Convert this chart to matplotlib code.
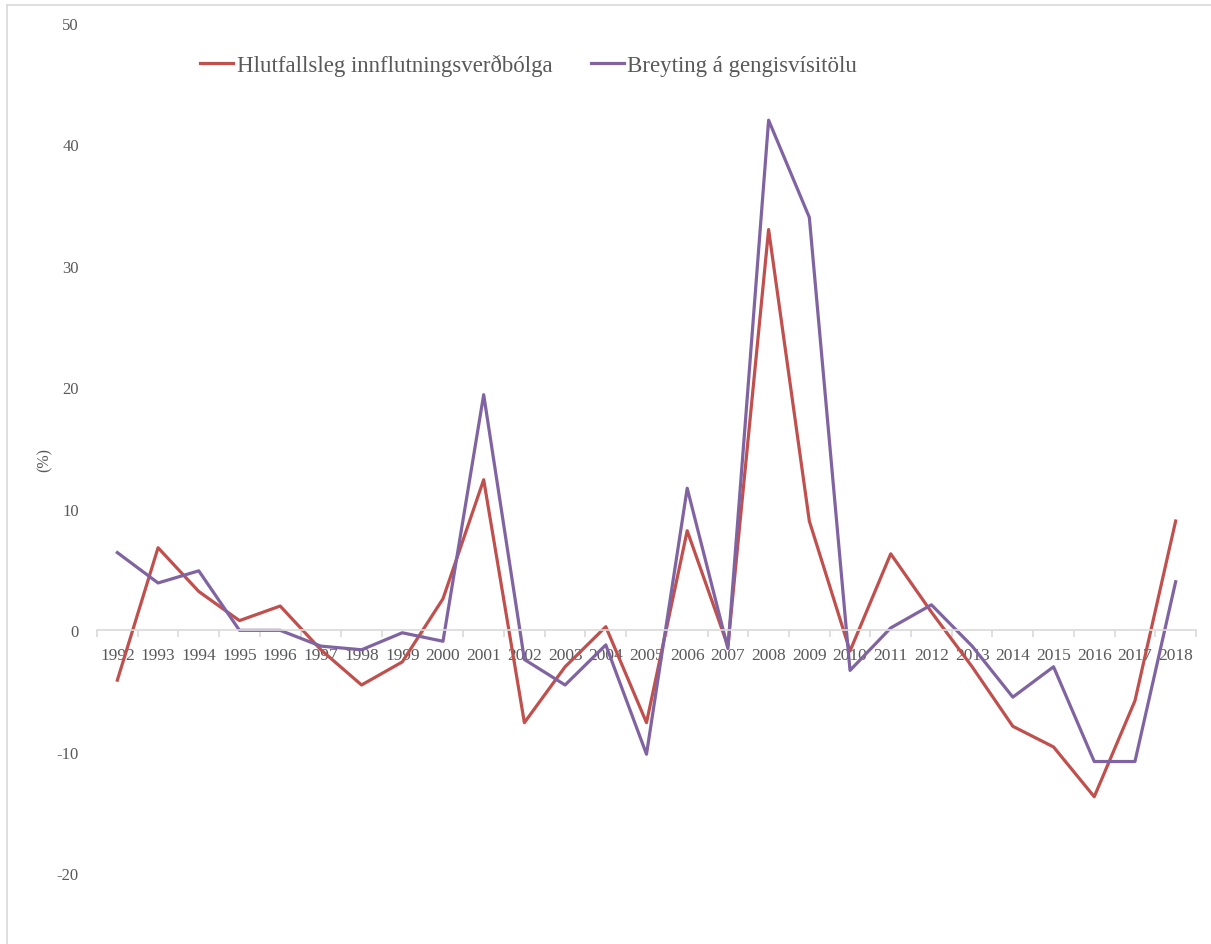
import matplotlib.pyplot as plt
from matplotlib.lines import Line2D
from matplotlib.ticker import FixedLocator

years = [str(y) for y in range(1992, 2019)]
innflutningsverdbolga = [-4.1, 6.8, 3.2, 0.8, 2.0, -1.6, -4.5, -2.6, 2.6, 12.4,
                         -7.6, -3.0, 0.3, -7.6, 8.2, -1.3, 33.0, 9.0, -1.7, 6.3,
                         1.5, -3.0, -7.9, -9.6, -13.7, -5.8, 9.0]
gengisvisitala = [6.4, 3.9, 4.9, 0.0, 0.0, -1.3, -1.6, -0.2, -0.9, 19.4,
                  -2.4, -4.5, -1.2, -10.2, 11.7, -1.5, 42.0, 34.0, -3.3, 0.2,
                  2.1, -1.3, -5.5, -3.0, -10.8, -10.8, 4.0]

plt.rcParams['font.family'] = ['Liberation Serif', 'DejaVu Serif']
plt.rcParams['axes.unicode_minus'] = False
txt = '#595959'
grid_col = '#D9D9D9'

fig = plt.figure(figsize=(12.11, 9.45), dpi=100)
ax = fig.add_axes([97 / 1211, 1 - 935 / 945, (1196 - 97) / 1211, (935 - 24) / 945])

x = list(range(len(years)))
ax.plot(x, innflutningsverdbolga, color='#C0504D', lw=2.3,
        label='Hlutfallsleg innflutningsverðbólga')
ax.plot(x, gengisvisitala, color='#8064A2', lw=2.3,
        label='Breyting á gengisvísitölu')

ax.set_xlim(-0.5, len(years) - 0.5)
ax.set_ylim(-25, 50)
ax.set_yticks(range(-20, 51, 10))
ax.tick_params(axis='y', length=0, pad=13, labelsize=12, labelcolor=txt)

# category axis sits on y = 0 with boundary tick marks
for s in ['top', 'right', 'left']:
    ax.spines[s].set_visible(False)
ax.spines['bottom'].set_position(('data', 0))
ax.spines['bottom'].set_color(grid_col)
ax.spines['bottom'].set_linewidth(1.2)
ax.set_xticks(x)
ax.set_xticklabels(years)
ax.xaxis.set_minor_locator(FixedLocator([i - 0.5 for i in range(len(years) + 1)]))
ax.tick_params(axis='x', which='major', length=0, pad=12, labelsize=12.5, labelcolor=txt)
ax.tick_params(axis='x', which='minor', length=5, width=1.2, color=grid_col, direction='out')

fig.text(45 / 1211, 1 - 460 / 945, '(%)', rotation=90, ha='center', va='center',
         fontsize=11.5, color=txt)

leg = fig.legend(loc='center left', bbox_to_anchor=(200 / 1211, 1 - 66 / 945), ncol=2,
                 frameon=False, fontsize=16.5, borderpad=0, borderaxespad=0,
                 handlelength=1.44, handletextpad=0.17, columnspacing=1.66)
for t in leg.get_texts():
    t.set_color(txt)

# outer chart border
fig.add_artist(Line2D([7 / 1211, 7 / 1211], [0, 1 - 6 / 945], color=grid_col, lw=1.2))
fig.add_artist(Line2D([7 / 1211, 1], [1 - 6 / 945, 1 - 6 / 945], color=grid_col, lw=1.2))

fig.savefig('out.png', dpi=100)
